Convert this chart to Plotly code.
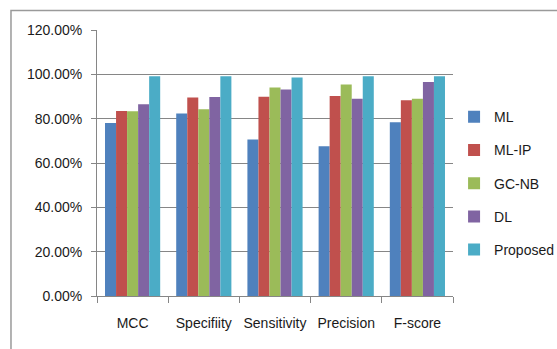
import plotly.graph_objects as go

categories = ["MCC", "Specifiity", "Sensitivity", "Precision", "F-score"]
series_names = ["ML", "ML-IP", "GC-NB", "DL", "Proposed"]
ml = [0.781, 0.823, 0.706, 0.676, 0.784]
ml_ip = [0.835, 0.895, 0.899, 0.902, 0.883]
gc_nb = [0.833, 0.842, 0.941, 0.954, 0.890]
dl = [0.865, 0.898, 0.932, 0.890, 0.965]
proposed = [0.991, 0.991, 0.986, 0.991, 0.991]
colors = ["#4F81BD", "#C0504D", "#9BBB59", "#8064A2", "#4BACC6"]
y_ticks = [0, 0.2, 0.4, 0.6, 0.8, 1.0, 1.2]

values = [ml, ml_ip, gc_nb, dl, proposed]

fig = go.Figure()
for name, vals, col in zip(series_names, values, colors):
    fig.add_trace(go.Bar(
        x=categories, y=vals, name=name, legendgroup=name,
        marker=dict(color=col, line=dict(width=0)),
    ))

font_family = "Liberation Sans, Arial, sans-serif"
fig.update_layout(
    width=557, height=349,
    margin=dict(l=97, r=104, t=30, b=53, autoexpand=False),
    paper_bgcolor="white", plot_bgcolor="white",
    barmode="group", bargap=0.225, bargroupgap=0,
    font=dict(family=font_family, size=14, color="#1a1a1a"),
    showlegend=True,
    legend=dict(x=1.003, xanchor="left", y=0.424, yanchor="middle",
                font=dict(size=14, color="#1a1a1a"),
                tracegroupgap=12, bgcolor="rgba(0,0,0,0)"),
    xaxis=dict(
        type="category", showgrid=False, showline=True, linecolor="#868686",
        linewidth=1, ticks="outside", ticklen=6, tickcolor="#868686",
        tickson="boundaries", tickfont=dict(size=14), tickangle=0,
        ticklabelstandoff=14, automargin=False, fixedrange=True,
    ),
    yaxis=dict(
        range=[0, 1.2], tickvals=y_ticks, tickformat=".2%",
        showgrid=True, gridcolor="#868686", gridwidth=1,
        showline=True, linecolor="#868686", linewidth=1,
        ticks="outside", ticklen=5, tickcolor="#868686",
        tickfont=dict(size=14), zeroline=False, ticklabelstandoff=6,
        automargin=False, fixedrange=True,
    ),
    shapes=[dict(type="rect", xref="paper", yref="paper",
                 x0=-0.2416, x1=2.0, y0=-0.4, y1=1.0736,
                 line=dict(color="#9a9a9a", width=1.5), fillcolor="rgba(0,0,0,0)",
                 layer="below")],
)

fig.write_html("out.html", config={"displayModeBar": False},
               post_script="document.body.style.margin='0';")
